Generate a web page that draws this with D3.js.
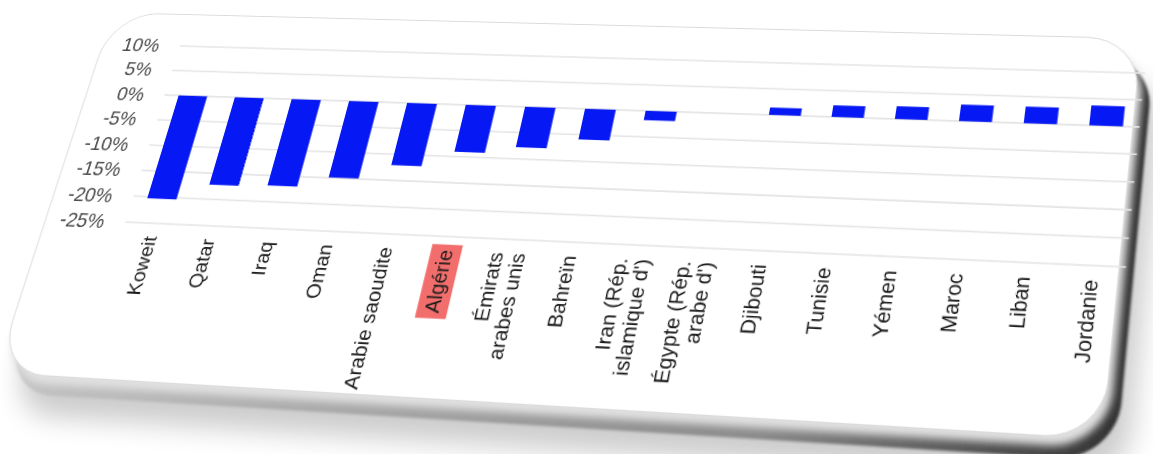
<!DOCTYPE html>
<html>
<head>
<meta charset="utf-8">
<script src="https://cdn.jsdelivr.net/npm/d3@7"></script>
<style>
  html, body { margin: 0; padding: 0; background: #fff; width: 1153px; height: 454px; overflow: hidden; }
  #stage { position: absolute; left: 0; top: 0; transform-origin: 0 0; }
  #stage svg { display: block; overflow: visible; }
  text { font-family: "Liberation Sans", Arial, Helvetica, sans-serif; }
</style>
</head>
<body>
<div id="stage"></div>
<script>
// ---- data -------------------------------------------------------------
const categories = [
  "Koweit", "Qatar", "Iraq", "Oman", "Arabie saoudite", "Algérie",
  "Émirats arabes unis", "Bahreïn", "Iran (Rép. islamique d')",
  "Égypte (Rép. arabe d')", "Djibouti", "Tunisie", "Yémen", "Maroc",
  "Liban", "Jordanie"
];
const values = [
  -20.3, -17.2, -16.9, -14.9, -12.1, -9.1,
  -7.8, -5.9, -1.8,
  0, 1.4, 2.2, 2.4, 3.1,
  3.1, 3.7
];
const yTicks = [10, 5, 0, -5, -10, -15, -20, -25];
const labelLines = {
  "Émirats arabes unis": ["Émirats", "arabes unis"],
  "Iran (Rép. islamique d')": ["Iran (Rép.", "islamique d')"],
  "Égypte (Rép. arabe d')": ["Égypte (Rép.", "arabe d')"]
};
const highlighted = "Algérie";

// ---- flat layout (card coordinates) ----------------------------------
const ox = 150, oy = 70;          // plot origin inside the card layer
const stageW = 1220, stageH = 600;
const step = 60;
const plotW = step * (categories.length - 0.49 + 2 * 0.25);
const plotH = 185;

const x = d3.scaleBand().domain(categories).range([0, plotW])
  .paddingInner(0.49).paddingOuter(0.25);
const y = d3.scaleLinear().domain([-25, 10]).range([plotH, 0]);
const bw = x.bandwidth();

// ---- tilt of the card: projective map from card layer to page ---------
function homography(src, dst) {
  const A = [], b = [];
  for (let i = 0; i < 4; i++) {
    const [sx, sy] = src[i], [X, Y] = dst[i];
    A.push([sx, sy, 1, 0, 0, 0, -X * sx, -X * sy]); b.push(X);
    A.push([0, 0, 0, sx, sy, 1, -Y * sx, -Y * sy]); b.push(Y);
  }
  const n = 8;
  for (let c = 0; c < n; c++) {
    let p = c;
    for (let r = c + 1; r < n; r++) if (Math.abs(A[r][c]) > Math.abs(A[p][c])) p = r;
    [A[c], A[p]] = [A[p], A[c]]; [b[c], b[p]] = [b[p], b[c]];
    for (let r = 0; r < n; r++) {
      if (r === c) continue;
      const f = A[r][c] / A[c][c];
      for (let k = c; k < n; k++) A[r][k] -= f * A[c][k];
      b[r] -= f * b[c];
    }
  }
  const h = b.map((v, i) => v / A[i][i]);
  return [[h[0], h[1], h[2]], [h[3], h[4], h[5]], [h[6], h[7], 1]];
}
function inv3(m) {
  const [a, b, c] = m[0], [d, e, f] = m[1], [g, h, i] = m[2];
  const C00 = e * i - f * h, C01 = -(d * i - f * g), C02 = d * h - e * g;
  const det = a * C00 + b * C01 + c * C02;
  return [
    [C00 / det, -(b * i - c * h) / det, (b * f - c * e) / det],
    [C01 / det, (a * i - c * g) / det, -(a * f - c * d) / det],
    [C02 / det, -(a * h - b * g) / det, (a * e - b * d) / det]
  ];
}
function project(m, p) {
  const w = m[2][0] * p[0] + m[2][1] * p[1] + m[2][2];
  return [(m[0][0] * p[0] + m[0][1] * p[1] + m[0][2]) / w,
          (m[1][0] * p[0] + m[1][1] * p[1] + m[1][2]) / w];
}

const xFirst = ox + x(categories[0]);
const xLast = ox + x(categories[categories.length - 1]) + bw;
const H = homography(
  [[xFirst, oy + y(10)], [xLast, oy + y(10)], [xLast, oy + y(-25)], [xFirst, oy + y(-25)]],
  [[193.6, 46.4], [1128.4, 72.75], [1109.1, 266.3], [139.8, 222.7]]
);
const Hi = inv3(H);

// card edges, placed where the tilted card's borders fall on the page
const cardL = project(Hi, [52, 200])[0];
const cardR = project(Hi, [1126, 200])[0];
const cardT = project(Hi, [640, 26])[1];
const cardB = project(Hi, [600, 409])[1];
const cardRadius = 50;

d3.select("#stage")
  .style("width", stageW + "px").style("height", stageH + "px")
  .style("transform", "matrix3d(" + [
    H[0][0], H[1][0], 0, H[2][0],
    H[0][1], H[1][1], 0, H[2][1],
    0, 0, 1, 0,
    H[0][2], H[1][2], 0, H[2][2]
  ].join(",") + ")");

// ---- drawing ----------------------------------------------------------
const svg = d3.select("#stage").append("svg")
  .attr("width", stageW).attr("height", stageH);
const defs = svg.append("defs");

const fShadow = defs.append("filter").attr("id", "shadowBlur")
  .attr("x", "-20%").attr("y", "-20%").attr("width", "140%").attr("height", "150%");
fShadow.append("feGaussianBlur").attr("stdDeviation", 12);
const fEdge = defs.append("filter").attr("id", "edgeBlur")
  .attr("x", "-10%").attr("y", "-10%").attr("width", "120%").attr("height", "130%");
fEdge.append("feGaussianBlur").attr("stdDeviation", 1.3);
const fSoft = defs.append("filter").attr("id", "softBlur")
  .attr("x", "-10%").attr("y", "-10%").attr("width", "120%").attr("height", "130%");
fSoft.append("feGaussianBlur").attr("stdDeviation", 3.5);

const edgeGrad = defs.append("linearGradient").attr("id", "edgeGrad")
  .attr("x1", 0).attr("y1", 0).attr("x2", 1).attr("y2", 0);
edgeGrad.append("stop").attr("offset", "0%").attr("stop-color", "#c4c4c4");
edgeGrad.append("stop").attr("offset", "70%").attr("stop-color", "#8a8a8a");
edgeGrad.append("stop").attr("offset", "100%").attr("stop-color", "#333");

function cardRect(g, dx, dy) {
  return g.append("rect")
    .attr("x", cardL + dx).attr("y", cardT + dy)
    .attr("width", cardR - cardL).attr("height", cardB - cardT)
    .attr("rx", cardRadius).attr("ry", cardRadius);
}

const cardLayer = svg.append("g");
cardRect(cardLayer, 24, 38).attr("fill", "#000").attr("opacity", 0.2)
  .attr("filter", "url(#shadowBlur)");
cardRect(cardLayer, 13, 18).attr("fill", "url(#edgeGrad)").attr("filter", "url(#edgeBlur)");
cardRect(cardLayer, 5, 8).attr("fill", "#e0e0e0").attr("filter", "url(#softBlur)");
cardRect(cardLayer, 0, 0).attr("fill", "#fff").attr("stroke", "#dadada").attr("stroke-width", 1);

const chart = svg.append("g").attr("transform", `translate(${ox},${oy})`);

// gridlines
chart.append("g").selectAll("line").data(yTicks).join("line")
  .attr("x1", 0).attr("x2", plotW)
  .attr("y1", d => y(d)).attr("y2", d => y(d))
  .attr("stroke", "#e4e4e4").attr("stroke-width", 1.6);

// bars
chart.append("g").selectAll("rect").data(categories).join("rect")
  .attr("x", d => x(d))
  .attr("width", bw)
  .attr("y", (d, i) => y(Math.max(0, values[i])))
  .attr("height", (d, i) => Math.abs(y(values[i]) - y(0)))
  .attr("fill", "#0618f4");

// y axis labels
chart.append("g").selectAll("text").data(yTicks).join("text")
  .attr("x", -22).attr("y", d => y(d)).attr("dy", "0.35em")
  .attr("text-anchor", "end")
  .attr("font-size", 20).attr("fill", "#4a4a4a")
  .text(d => `${d}%`);

// category labels, rotated
const labels = chart.append("g").selectAll("g").data(categories).join("g")
  .attr("transform", d => `translate(${x(d) + bw / 2},${plotH + 13}) rotate(-90)`);

labels.each(function (d) {
  const g = d3.select(this);
  const lines = labelLines[d] || [d];
  const t = g.append("text")
    .attr("text-anchor", "end").attr("font-size", 19.5).attr("fill", "#1c1c1c");
  lines.forEach((ln, i) => {
    t.append("tspan").attr("x", 0)
      .attr("y", 0)
      .attr("dy", ((i - (lines.length - 1) / 2) * 1.1 + 0.35) + "em")
      .text(ln);
  });
  if (d === highlighted) {
    const bb = t.node().getBBox();
    g.insert("rect", "text")
      .attr("x", bb.x - 5).attr("y", bb.y - 4)
      .attr("width", bb.width + 10).attr("height", bb.height + 8)
      .attr("fill", "#f26e6c");
  }
});
</script>
</body>
</html>
